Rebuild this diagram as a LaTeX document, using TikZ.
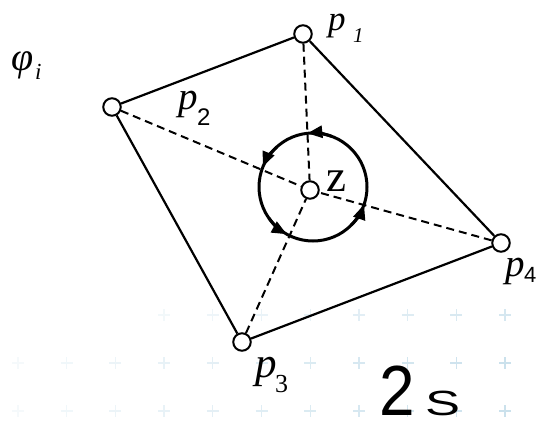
\documentclass[tikz,border=0pt]{standalone}
\usepackage{fontspec}
\setmainfont{Liberation Serif}
\newfontfamily\arialf{Liberation Sans}
\usetikzlibrary{arrows.meta}
\definecolor{crossc}{RGB}{185,215,230}
\newcommand{\fsz}[1]{\fontsize{#1}{#1}\selectfont}
\begin{document}
\begin{tikzpicture}[x=1pt,y=-1pt,
  vtx/.style={circle,draw,fill=white,line width=2pt,minimum size=17.5pt,inner sep=0pt},
  edge/.style={line width=2.2pt},
  dline/.style={line width=2pt,dash pattern=on 8pt off 5pt},
  ring/.style={line width=3pt},
  arr/.style={ring,-{Triangle[length=15pt,width=12pt]}},
  xc/.style={line width=1.3pt,draw=crossc},
  lab/.style={anchor=base west,inner sep=0pt}]
\useasboundingbox (0,0) rectangle (540,425);
% faint background crosses
\foreach \k in {0,...,10}{
  \pgfmathsetmacro\xx{18+48.7*\k}
  \pgfmathsetmacro\op{0.15+0.06*\k}
  \foreach \yy in {363,411}{
    \draw[xc,opacity=\op] (\xx-6,\yy) -- (\xx+6,\yy) (\xx,\yy-6) -- (\xx,\yy+6);
  }
}
\foreach \k in {3,...,10}{
  \pgfmathsetmacro\xx{18+48.7*\k}
  \pgfmathsetmacro\op{0.06*\k}
  \draw[xc,opacity=\op] (\xx-6,315) -- (\xx+6,315) (\xx,309) -- (\xx,321);
}
% vertices
\node[vtx] (p1) at (303,34) {};
\node[vtx] (p2) at (112,107) {};
\node[vtx] (p3) at (242,342) {};
\node[vtx] (p4) at (501,243) {};
\node[vtx] (z) at (310,190) {};
% polygon
\draw[edge] (p2) -- (p1);
\draw[edge] (p1) -- (p4);
\draw[edge] (p4) -- (p3);
\draw[edge] (p3) -- (p2);
% dashed spokes
\foreach \p in {p1,p2,p3,p4}{ \draw[dline] (\p) -- (z); }
% ring with arrows
\coordinate (c) at (313,187);
\draw[ring] (c) circle[radius=54];
\foreach \a in {96,158,241,341}{
  \draw[arr] (c) ++(-\a+26:54) arc[start angle=-\a+26,end angle=-\a,radius=54];
}
% labels
\node[lab] (phi) at (11,71) {\fsz{40}\itshape φ};
\node[lab] (phis) at (35,80) {\fsz{23}\itshape i};
\node[lab] (l1) at (328,30.5) {\fsz{35}\itshape p};
\node[lab] (l1s) at (353,43) {\fsz{21}\itshape 1};
\node[lab] (l2) at (178,110) {\fsz{39}\itshape p};
\node[lab] (l2s) at (197,125) {\arialf\fsz{24}2};
\node[lab] (l3) at (255,377) {\fsz{43}\itshape p};
\node[lab] (l3s) at (275,392) {\fsz{26}3};
\node[lab] (l4) at (505,276) {\fsz{39}\itshape p};
\node[lab] (l4s) at (524,282) {\arialf\fsz{22}4};
\node[lab] (lz) at (326,191) {\fsz{45}z};
\node[lab] (two) at (379,415) {\arialf\fsz{71}\scalebox{0.9}[1]{2}};
\node[lab] (ess) at (425,415) {\arialf\fsz{35}\scalebox{1.5}[1]{S}};
\end{tikzpicture}
\end{document}
